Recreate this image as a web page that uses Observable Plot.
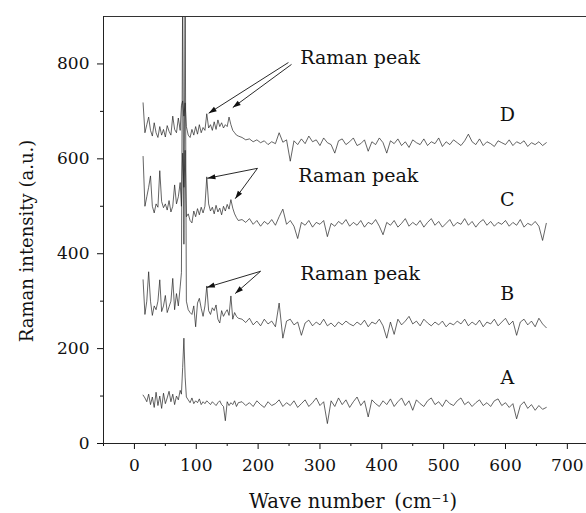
<!DOCTYPE html>
<html><head><meta charset="utf-8">
<script src="https://cdn.jsdelivr.net/npm/d3@7"></script>
<script src="https://cdn.jsdelivr.net/npm/@observablehq/plot@0.6"></script>
<style>body{margin:0;background:#fff}#chart svg{display:block}</style>
</head><body><div id="chart"></div>
<script>
const waves = [
 14,17,20,23,26,29,32,35,38,41,
 44,47,50,53,56,59,62,65,68,71,
 74,76,78,80,82,84,87,90,93,96,
 99,102,105,108,111,114,117,120,123,126,
 129,132,135,138,141,144,147,150,153,156,
 159,162,165,168,
 174,180,186,192,198,204,210,216,222,228,
 234,240,246,252,258,264,270,276,282,288,
 294,300,306,312,318,324,330,336,342,348,
 354,360,366,372,378,384,390,396,402,408,
 414,420,426,432,438,444,450,456,462,468,
 474,480,486,492,498,504,510,516,522,528,
 534,540,546,552,558,564,570,576,582,588,
 594,600,606,612,618,624,630,636,642,648,
 654,660,666];

const seriesD = [
 718,655,672,688,660,648,676,655,645,668,
 650,662,646,670,658,650,690,662,655,686,
 660,712,722,690,718,668,650,645,662,650,
 668,652,672,655,666,660,695,665,672,660,
 678,662,682,668,676,665,672,668,688,672,
 660,655,650,648,
 645,640,642,636,640,634,638,630,636,632,
 655,635,640,595,638,630,642,632,648,636,
 640,628,644,634,630,612,638,642,630,636,
 644,628,632,640,616,636,630,644,634,612,
 638,632,642,628,636,624,640,634,630,642,
 628,636,632,644,626,636,630,640,634,628,
 638,652,636,630,642,628,636,632,626,638,
 634,630,640,628,636,632,638,626,634,630,
 636,628,634];

const seriesC = [
 605,500,520,540,564,500,486,505,498,575,
 510,497,505,492,512,488,500,545,505,520,
 550,500,612,540,618,478,484,470,465,490,
 478,495,482,498,486,500,562,505,490,498,
 484,502,488,496,482,500,490,504,494,514,
 496,484,476,470,
 472,466,474,462,470,458,468,462,472,460,
 478,494,462,470,458,432,466,460,470,456,
 466,462,470,436,464,458,468,462,472,458,
 466,460,470,456,466,462,472,458,440,466,
 460,470,456,464,474,458,466,460,470,456,
 466,474,460,468,456,464,472,458,466,462,
 474,460,468,456,466,472,460,468,458,466,
 462,470,458,466,460,472,456,464,460,468,
 458,428,464];

const seriesB = [
 345,272,300,362,300,270,290,282,300,345,
 278,290,312,276,288,300,348,282,316,290,
 330,360,960,420,960,300,282,276,272,290,
 246,296,306,285,268,290,332,280,272,286,
 280,292,262,254,280,268,276,282,270,311,
 262,276,268,264,
 262,255,264,250,258,248,262,252,258,246,
 296,222,258,262,250,256,228,254,260,248,
 256,250,262,248,254,246,256,250,258,252,
 248,256,250,260,246,256,252,262,248,222,
 256,230,262,250,258,268,252,258,248,262,
 254,248,256,250,258,246,254,250,258,252,
 262,248,256,250,260,246,256,252,262,248,
 256,264,250,258,228,256,262,250,258,246,
 264,252,244];

const seriesA = [
 102,96,88,104,82,98,76,108,80,100,
 74,106,84,96,110,88,104,82,100,92,
 112,104,160,222,140,98,92,86,96,84,
 90,86,94,82,88,84,90,86,82,88,
 84,80,86,90,82,78,48,88,80,86,
 82,90,78,86,
 88,80,86,78,90,82,76,88,80,84,
 92,78,86,80,90,76,84,92,78,86,
 96,80,88,42,90,78,96,82,92,76,
 88,98,80,90,56,92,84,78,90,82,
 94,78,88,96,80,90,70,92,84,78,
 90,96,82,88,78,92,84,80,90,96,
 82,88,78,86,92,80,86,78,90,94,
 80,86,76,84,52,80,88,74,82,70,
 80,72,76];

const seriesNames = ["A", "B", "C", "D"];
const seriesValues = [seriesA, seriesB, seriesC, seriesD];

const majorX = [0, 100, 200, 300, 400, 500, 600, 700];
const minorX = [-50, 50, 150, 250, 350, 450, 550, 650];
const majorY = [0, 200, 400, 600, 800];
const minorY = [100, 300, 500, 700];

const curveLabels = ["A", "B", "C", "D"];
const curveLabelX = [603, 603, 603, 603];
const curveLabelY = [139, 316, 514, 693];

const peakTexts = ["Raman peak", "Raman peak", "Raman peak"];
const peakTextX = [268, 265, 268];
const peakTextY = [812, 563, 358];

const arrowX1 = [249, 254, 199, 199, 204, 204];
const arrowY1 = [803, 799, 580, 580, 363, 363];
const arrowX2 = [120, 159, 118, 163, 117, 163];
const arrowY2 = [696, 708, 559, 516, 329, 316];

const rows = seriesNames.flatMap((s, k) =>
  waves.map((w, i) => ({w, v: seriesValues[k][i], s})).filter(d => d.v != null));
const labelRows = curveLabels.map((t, i) => ({t, x: curveLabelX[i], y: curveLabelY[i]}));
const peakRows = peakTexts.map((t, i) => ({t, x: peakTextX[i], y: peakTextY[i]}));
const arrowRows = arrowX1.map((x1, i) => ({x1, y1: arrowY1[i], x2: arrowX2[i], y2: arrowY2[i]}));

const FONT = "DejaVu Serif";

function triHead(color) {
  const m = d3.create("svg:marker")
    .attr("viewBox", "-10 -5 10 10")
    .attr("markerWidth", 10).attr("markerHeight", 10)
    .attr("markerUnits", "userSpaceOnUse")
    .attr("orient", "auto")
    .attr("fill", color).attr("stroke", "none");
  m.append("path").attr("d", "M-8,-2.6L0,0L-8,2.6Z");
  return m.node();
}

const chart = Plot.plot({
  width: 586, height: 513,
  marginLeft: 103, marginRight: 0, marginTop: 16, marginBottom: 70,
  style: {fontFamily: FONT, fontSize: "17px", color: "#111", background: "#fff"},
  x: {domain: [-50, 731]},
  y: {domain: [0, 900]},
  marks: [
    Plot.axisX({ticks: majorX, tickSize: 6, tickPadding: 9, fontSize: 17, label: null, tickFormat: d => String(d)}),
    Plot.axisX({ticks: minorX, tickSize: 3, text: null, label: null}),
    Plot.axisY({ticks: majorY, tickSize: 6, tickPadding: 8, fontSize: 17, label: null, tickFormat: d => String(d)}),
    Plot.axisY({ticks: minorY, tickSize: 3, text: null, label: null}),
    Plot.line(rows, {x: "w", y: "v", z: "s", stroke: "#222", strokeWidth: 0.7, clip: true}),
    Plot.ruleY([0], {stroke: "#222", strokeWidth: 1}),
    Plot.ruleY([900], {stroke: "#333", strokeWidth: 1}),
    Plot.ruleX([-50], {stroke: "#222", strokeWidth: 1}),
    Plot.link(arrowRows, {x1: "x1", y1: "y1", x2: "x2", y2: "y2", stroke: "#111", strokeWidth: 0.9, markerEnd: triHead}),
    Plot.text(labelRows, {x: "x", y: "y", text: "t", fontSize: 19, fill: "#111", fontFamily: FONT}),
    Plot.text(peakRows, {x: "x", y: "y", text: "t", fontSize: 19, fill: "#111", textAnchor: "start", fontFamily: FONT}),
    Plot.text(["Raman intensity (a.u.)"], {frameAnchor: "left", textAnchor: "middle", lineAnchor: "middle", dx: -76, dy: 11, rotate: -90, fontSize: 18, fill: "#111", fontFamily: FONT}),
    Plot.text(["Wave number\u2002(cm\u207B\u00B9)"], {frameAnchor: "bottom", textAnchor: "middle", lineAnchor: "middle", dx: 8, dy: 58, fontSize: 19.5, fill: "#111", fontFamily: FONT})
  ]
});
document.getElementById("chart").appendChild(chart);
</script>
</body></html>
